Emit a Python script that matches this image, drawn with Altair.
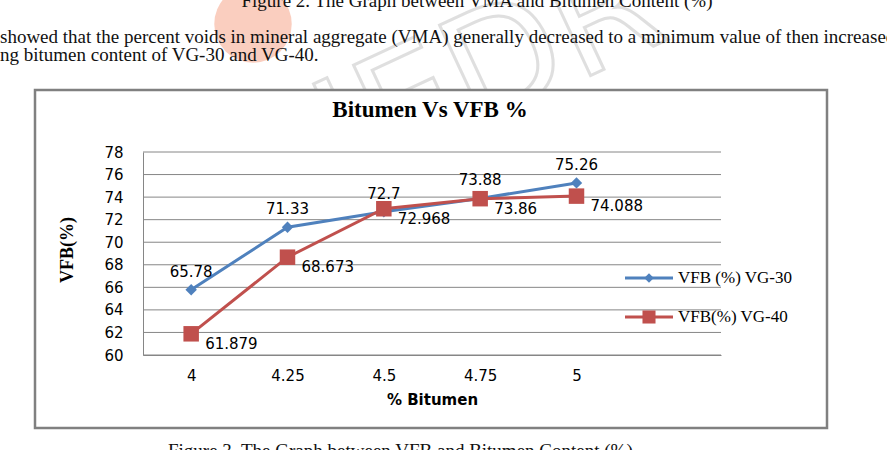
import altair as alt
import pandas as pd

# ---- data ----
bitumen = [4, 4.25, 4.5, 4.75, 5]
vg30 = [65.78, 71.33, 72.7, 73.88, 75.26]
vg40 = [61.879, 68.673, 72.968, 73.86, 74.088]
vg30_labels = ["65.78", "71.33", "72.7", "73.88", "75.26"]
vg40_labels = ["61.879", "68.673", "72.968", "73.86", "74.088"]
series_names = ["VFB (%) VG-30", "VFB(%) VG-40"]
series_colors = ["#4F81BD", "#C0504D"]
series_shapes = ["diamond", "square"]
y_ticks = [60, 62, 64, 66, 68, 70, 72, 74, 76, 78]
x_ticks = [4, 4.25, 4.5, 4.75, 5]

chart_title = "Bitumen Vs VFB %"
x_title = "% Bitumen"
y_title = "VFB(%)"
doc_lines = [
    "Figure 2. The Graph between VMA and Bitumen Content (%)",
    "showed that the percent voids in mineral aggregate (VMA) generally decreased to a minimum value of then increased with",
    "ng bitumen content of VG-30 and VG-40.",
    "Figure 3. The Graph between VFB and Bitumen Content (%)",
]

rows = []
for s, vals, labs in [(series_names[0], vg30, vg30_labels), (series_names[1], vg40, vg40_labels)]:
    for b, v, l in zip(bitumen, vals, labs):
        rows.append({"bitumen": b, "vfb": v, "label": l, "series": s})
df = pd.DataFrame(rows)

W, H = 578, 203
GRID = "#868686"

x_scale = alt.Scale(domain=[3.875, 5.375], nice=False, zero=False)
y_scale = alt.Scale(domain=[60, 78], nice=False, zero=False)
color_scale = alt.Scale(domain=series_names, range=series_colors)

x_axis = alt.Axis(values=x_ticks, labelExpr="datum.value + ''", grid=False, ticks=False,
                  domainColor=GRID, domainWidth=1, zindex=1,
                  labelFont="DejaVu Sans", labelFontSize=15, labelColor="#000",
                  labelPadding=13, labelFlush=False,
                  titleFont="DejaVu Sans", titleFontSize=15, titleFontWeight="bold",
                  titleColor="#000", titlePadding=9)
y_axis = alt.Axis(values=y_ticks, grid=False, ticks=False, domainColor=GRID,
                  domainWidth=1, zindex=1,
                  labelFont="DejaVu Sans", labelFontSize=15, labelColor="#000",
                  labelPadding=20)

base = alt.Chart(df).encode(
    x=alt.X("bitumen:Q", scale=x_scale, title=x_title, axis=x_axis),
    y=alt.Y("vfb:Q", scale=y_scale, title=None, axis=y_axis),
    color=alt.Color("series:N", scale=color_scale, legend=None),
)

# horizontal gridlines drawn as rules on the y scale
grid = alt.Chart(pd.DataFrame({"v": y_ticks})).mark_rule(color=GRID, strokeWidth=1).encode(
    y=alt.Y("v:Q", scale=y_scale, title=None, axis=y_axis),
    x=alt.value(0), x2=alt.value(W))

lines = base.mark_line(strokeWidth=3)
pts30 = base.transform_filter(alt.datum.series == series_names[0]).mark_point(
    shape=series_shapes[0], filled=True, opacity=1, size=130)
pts40 = base.transform_filter(alt.datum.series == series_names[1]).mark_point(
    shape=series_shapes[1], filled=True, opacity=1, size=240)
lab30 = base.transform_filter(alt.datum.series == series_names[0]).mark_text(
    font="DejaVu Sans", fontSize=15, color="#000", dy=-18, align="center"
).encode(text="label:N", color=alt.value("#000"))
lab40 = base.transform_filter(alt.datum.series == series_names[1]).mark_text(
    font="DejaVu Sans", fontSize=15, color="#000", dx=14, dy=10, align="left"
).encode(text="label:N", color=alt.value("#000"))

one = pd.DataFrame({"k": [0]})

# watermark
blob = alt.Chart(one).mark_point(filled=True, shape="circle", size=6000,
                                 color="#F6AE95", opacity=0.6).encode(
    x=alt.value(110), y=alt.value(-128))
wm = alt.Chart(pd.DataFrame({"t": ["IJEDR"]})).mark_text(
    font="DejaVu Sans", fontSize=150, angle=335, fillOpacity=0, stroke="#d2d2d2",
    strokeWidth=3, opacity=0.7, align="center", baseline="middle"
).encode(x=alt.value(327), y=alt.value(-70), text="t:N")

# document text
doc = []
doc_pos = [(334, -145, "center"), (-143, -109, "left"), (-143, -91, "left"), (25, 305, "left")]
for t, (px, py, al) in zip(doc_lines, doc_pos):
    doc.append(alt.Chart(pd.DataFrame({"t": [t]})).mark_text(
        font="Liberation Serif", fontSize=19, color="#111", align=al, baseline="alphabetic"
    ).encode(x=alt.value(px), y=alt.value(py), text="t:N"))

frame = alt.Chart(one).mark_rect(fill="white", stroke="#808080", strokeWidth=2.5).encode(
    x=alt.value(-108), x2=alt.value(684), y=alt.value(-62), y2=alt.value(276))

title = alt.Chart(pd.DataFrame({"t": [chart_title]})).mark_text(
    font="Liberation Serif", fontSize=23, fontWeight="bold", color="#000",
    align="center", baseline="alphabetic"
).encode(x=alt.value(287), y=alt.value(-35), text="t:N")

ytitle = alt.Chart(pd.DataFrame({"t": [y_title]})).mark_text(
    font="Liberation Serif", fontSize=18, fontWeight="bold", color="#000",
    align="center", baseline="middle", angle=270
).encode(x=alt.value(-75), y=alt.value(98), text="t:N")

# legend
legend_layers = []
for i, (name, col, shp) in enumerate(zip(series_names, series_colors, series_shapes)):
    ly = 126 + i * 39
    d = pd.DataFrame({"t": [name]})
    legend_layers.append(alt.Chart(d).mark_rule(color=col, strokeWidth=3).encode(
        x=alt.value(482), x2=alt.value(530), y=alt.value(ly)))
    legend_layers.append(alt.Chart(d).mark_point(
        shape=shp, filled=True, opacity=1, color=col, size=90 if i == 0 else 170).encode(
        x=alt.value(506), y=alt.value(ly)))
    legend_layers.append(alt.Chart(d).mark_text(
        font="Liberation Serif", fontSize=17, color="#000", align="left", baseline="middle"
    ).encode(x=alt.value(535), y=alt.value(ly), text="t:N"))

chart = alt.layer(
    blob, wm, *doc, frame, grid, title, ytitle, lines, pts30, pts40, lab30, lab40,
    *legend_layers
).properties(
    width=W, height=H,
    autosize=alt.AutoSizeParams(type="none"),
    padding={"left": 143, "top": 152, "right": 887 - 143 - W, "bottom": 450 - 152 - H},
    background="white",
).configure_view(strokeWidth=0)

chart.save("out.html", embed_options={"renderer": "svg", "actions": False})
